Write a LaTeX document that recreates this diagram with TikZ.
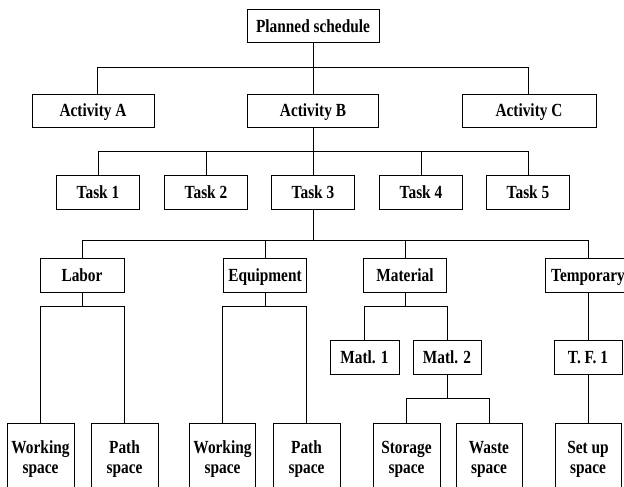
\documentclass[tikz,border=0pt]{standalone}
\usepackage{fontspec}
\setmainfont[FakeStretch=0.83]{Liberation Serif}
\begin{document}
\begin{tikzpicture}[x=1pt,y=-1pt,
  base/.style={draw, line width=1pt, font=\bfseries\fontsize{18.5}{20}\selectfont, inner sep=0pt},
  box/.style={base, minimum height=34pt, text height=12.2pt, text depth=0pt},
  tall/.style={base, minimum height=68pt, align=center, text height=33pt, text depth=1pt},
  ln/.style={line width=1pt}]
\useasboundingbox (0,0) rectangle (624,487);
\clip (0,0) rectangle (624,487);
% level 0/1
\node[box, minimum width=132pt, minimum height=33pt] (ps) at (313,26.5) {Planned schedule};
\node[box, minimum width=122pt, minimum height=33pt] (aa) at (93,110.5) {Activity A};
\node[box, minimum width=131pt, minimum height=33pt] (ab) at (313,110.5) {Activity B};
\node[box, minimum width=134pt, minimum height=33pt] (ac) at (529,110.5) {Activity C};
% tasks
\node[box, minimum width=83pt] (t1) at (98,192) {Task 1};
\node[box, minimum width=83pt] (t2) at (206,192) {Task 2};
\node[box, minimum width=83pt] (t3) at (313,192) {Task 3};
\node[box, minimum width=83pt] (t4) at (421,192) {Task 4};
\node[box, minimum width=83pt] (t5) at (528,192) {Task 5};
% resources
\node[box, minimum width=84pt] (lab) at (82,275) {Labor};
\node[box, minimum width=83pt] (eq) at (265,275) {Equipment};
\node[box, minimum width=83pt] (mat) at (405,275) {Material};
\node[box, minimum width=86pt] (tmp) at (588,275) {Temporary};
% materials
\node[box, minimum width=69pt] (m1) at (364.5,357) {Matl. 1};
\node[box, minimum width=68pt] (m2) at (447,357) {Matl. 2};
\node[box, minimum width=68pt] (tf) at (588,357) {T. F. 1};
% spaces
\node[tall, minimum width=67pt] (ws1) at (40.5,457) {Working\\space};
\node[tall, minimum width=67pt] (pa1) at (124.5,457) {Path\\space};
\node[tall, minimum width=66pt] (ws2) at (222.5,457) {Working\\space};
\node[tall, minimum width=67pt] (pa2) at (306.5,457) {Path\\space};
\node[tall, minimum width=67pt] (st) at (406.5,457) {Storage\\space};
\node[tall, minimum width=66pt] (wa) at (489,457) {Waste\\space};
\node[tall, minimum width=66pt] (su) at (588,457) {Set up\\space};
% bus coordinates
\coordinate (b1l) at (97,68);
\coordinate (b1r) at (528,68);
\coordinate (b2) at (0,151);
\coordinate (b3) at (0,240);
\coordinate (b4) at (0,306);
\coordinate (b5) at (0,398);
% connectors
\draw[ln] (ps.south) -- (ps.south |- b1l);
\draw[ln] (b1l |- aa.north) -- (b1l) -- (b1r) -- (b1r |- ac.north);
\draw[ln] (ab.north) -- (ab.north |- b1l);
\draw[ln] (ab.south) -- (ab.south |- b2);
\draw[ln] (t1.north) -- (t1.north |- b2) -- (t5.north |- b2) -- (t5.north);
\foreach \t in {t2,t3,t4} \draw[ln] (\t.north) -- (\t.north |- b2);
\draw[ln] (t3.south) -- (t3.south |- b3);
\draw[ln] (lab.north) -- (lab.north |- b3) -- (tmp.north |- b3) -- (tmp.north);
\draw[ln] (eq.north) -- (eq.north |- b3);
\draw[ln] (mat.north) -- (mat.north |- b3);
\draw[ln] (lab.south) -- (lab.south |- b4);
\draw[ln] (ws1.north) -- (ws1.north |- b4) -- (pa1.north |- b4) -- (pa1.north);
\draw[ln] (eq.south) -- (eq.south |- b4);
\draw[ln] (ws2.north) -- (ws2.north |- b4) -- (pa2.north |- b4) -- (pa2.north);
\draw[ln] (mat.south) -- (mat.south |- b4);
\draw[ln] (m1.north) -- (m1.north |- b4) -- (m2.north |- b4) -- (m2.north);
\draw[ln] (m2.south) -- (m2.south |- b5);
\draw[ln] (st.north) -- (st.north |- b5) -- (wa.north |- b5) -- (wa.north);
\draw[ln] (tmp.south) -- (tf.north);
\draw[ln] (tf.south) -- (su.north);
\end{tikzpicture}
\end{document}
